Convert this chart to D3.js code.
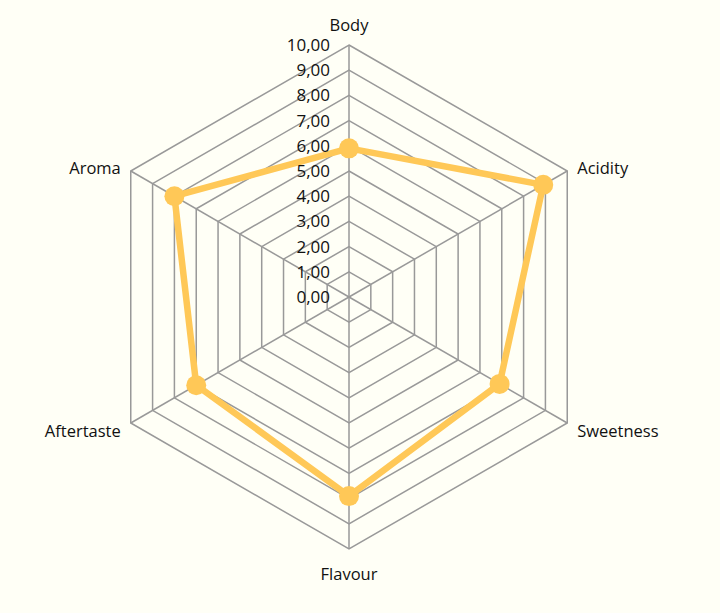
<!DOCTYPE html>
<html>
<head>
<meta charset="utf-8">
<script src="https://cdn.jsdelivr.net/npm/d3@7"></script>
<style>
  body { margin: 0; background: #fffff6; }
  svg { display: block; font-family: "Open Sans", "Noto Sans", sans-serif; }
</style>
</head>
<body>
<script>
const categories = ["Body", "Acidity", "Sweetness", "Flavour", "Aftertaste", "Aroma"];
const values = [5.9, 8.9, 6.9, 7.9, 7.0, 8.0];
const tickValues = [0, 1, 2, 3, 4, 5, 6, 7, 8, 9, 10];

const w = 720, h = 613;
const cx = 349, cy = 297, radius = 252;

const svg = d3.select("body").append("svg")
  .attr("width", w)
  .attr("height", h);

const r = d3.scaleLinear().domain([0, 10]).range([0, radius]);
const angle = d3.scaleLinear().domain([0, categories.length]).range([0, 2 * Math.PI]);

function pt(i, v) {
  const a = angle(i);
  return [cx + r(v) * Math.sin(a), cy - r(v) * Math.cos(a)];
}

const g = svg.append("g");

// rings
tickValues.forEach(function(t) {
  const pts = categories.map((c, i) => pt(i, t));
  g.append("polygon")
    .attr("points", pts.map(p => p.join(",")).join(" "))
    .attr("fill", "none")
    .attr("stroke", "#999")
    .attr("stroke-width", 1.5);
});

// spokes
categories.forEach(function(c, i) {
  const p = pt(i, 10);
  g.append("line")
    .attr("x1", cx).attr("y1", cy)
    .attr("x2", p[0]).attr("y2", p[1])
    .attr("stroke", "#999")
    .attr("stroke-width", 1.5);
});

// series line
const line = d3.line().curve(d3.curveLinearClosed);
g.append("path")
  .attr("d", line(values.map((v, i) => pt(i, v))))
  .attr("fill", "none")
  .attr("stroke", "#ffc857")
  .attr("stroke-width", 6.5)
  .attr("stroke-linejoin", "round");

g.selectAll("circle.pt")
  .data(values)
  .enter()
  .append("circle")
  .attr("class", "pt")
  .attr("cx", (d, i) => pt(i, d)[0])
  .attr("cy", (d, i) => pt(i, d)[1])
  .attr("r", 10)
  .attr("fill", "#ffc857");

// tick labels
g.selectAll("text.tick")
  .data(tickValues)
  .enter()
  .append("text")
  .attr("class", "tick")
  .attr("x", cx - 19)
  .attr("y", d => cy - r(d))
  .attr("dy", "0.35em")
  .attr("text-anchor", "end")
  .attr("font-size", 17)
  .attr("fill", "#111")
  .text(d => d.toFixed(2).replace(".", ","));

// category labels
categories.forEach(function(c, i) {
  const p = pt(i, 10);
  const a = angle(i);
  const s = Math.sin(a), co = Math.cos(a);
  let anchor = "middle", x = p[0], y = p[1];
  if (s > 0.1) { anchor = "start"; x += 10; }
  else if (s < -0.1) { anchor = "end"; x -= 10; }
  if (co > 0.9) y -= 20;
  else if (co < -0.9) y += 25;
  else if (co > 0) y -= 3;
  else y += 8;
  g.append("text")
    .attr("x", x)
    .attr("y", y)
    .attr("dy", "0.35em")
    .attr("text-anchor", anchor)
    .attr("font-size", 16.5)
    .attr("fill", "#111")
    .text(c);
});
</script>
</body>
</html>
